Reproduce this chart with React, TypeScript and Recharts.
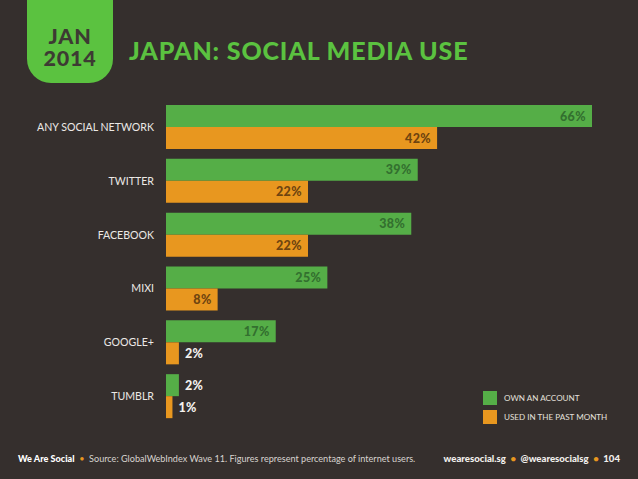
import React from "react";
import { BarChart, Bar, XAxis, YAxis, LabelList, Legend } from "recharts";

const categories = ["ANY SOCIAL NETWORK", "TWITTER", "FACEBOOK", "MIXI", "GOOGLE+", "TUMBLR"];
const ownAccount = [66, 39, 38, 25, 17, 2];
const usedPastMonth = [42, 22, 22, 8, 2, 1];
const rows = categories.map((name, i) => ({ name, own: ownAccount[i], used: usedPastMonth[i] }));

const BG = "#352f2d";
const GREEN = "#55ae47";
const ORANGE = "#e8971f";
const BADGE = "#5bc240";
const FONT = "Lato, 'Open Sans', sans-serif";

const makeLabel = (dark: string) => (p: any) => {
  const { x, y, width, height, value } = p;
  const outside = value <= 2;
  return (
    <text
      x={outside ? x + width + 6 : x + width - 6}
      y={y + height / 2 + 4.5}
      textAnchor={outside ? "start" : "end"}
      fontFamily={FONT}
      fontWeight={900}
      fontSize={12.5}
      letterSpacing={0.4}
      fill={outside ? "#f4f1ee" : dark}
    >
      {value}%
    </text>
  );
};

const CategoryTick = (p: any) => (
  <text x={p.x} y={p.y + 4.4} textAnchor="end" fill="#ece9e6" fontSize={10.6} fontFamily={FONT}>
    {p.payload.value}
  </text>
);

const legendContent = (p: any) => (
  <div>
    {p.payload.map((e: any) => (
      <div key={e.value} style={{ display: "flex", alignItems: "center", height: 19 }}>
        <span style={{ width: 14, height: 14.5, background: e.color, marginRight: 7, display: "block" }} />
        <span style={{ color: "#e4e0dc", fontSize: 8.1, fontFamily: FONT, whiteSpace: "nowrap" }}>{e.value}</span>
      </div>
    ))}
  </div>
);

export default function App() {
  return (
    <div style={{ position: "absolute", left: 0, top: 0, width: 638, height: 479, background: BG, overflow: "hidden" }}>
      <BarChart
        width={638}
        height={479}
        data={rows}
        layout="vertical"
        margin={{ top: 99.6, right: 46, bottom: 56.4, left: 0 }}
        barCategoryGap={5.4}
        barGap={0}
      >
        <XAxis type="number" domain={[0, 66]} hide />
        <YAxis
          type="category"
          dataKey="name"
          width={166}
          axisLine={false}
          tickLine={false}
          tickMargin={6}
          interval={0}
          tick={CategoryTick}
        />
        <Legend
          content={legendContent}
          layout="vertical"
          align="center"
          verticalAlign="middle"
          wrapperStyle={{ position: "absolute", left: 483, top: 388.5, width: 150, bottom: "auto" }}
        />
        <Bar dataKey="own" name="OWN AN ACCOUNT" fill={GREEN} isAnimationActive={false}>
          <LabelList dataKey="own" content={makeLabel("#33702f")} />
        </Bar>
        <Bar dataKey="used" name="USED IN THE PAST MONTH" fill={ORANGE} isAnimationActive={false}>
          <LabelList dataKey="used" content={makeLabel("#6e4410")} />
        </Bar>
      </BarChart>

      <div style={{ position: "absolute", left: 27, top: 0, width: 86, height: 83, background: BADGE, borderRadius: "0 0 24px 24px", color: "#3d3a33", boxSizing: "border-box" }} />
      <div style={{ position: "absolute", left: 27, top: 25, width: 86, textAlign: "center", color: "#3d3a33", fontFamily: FONT, fontWeight: 900, fontSize: 21.5, lineHeight: "22px", letterSpacing: 0.8, whiteSpace: "pre-line" }}>
        {"JAN\n2014"}
      </div>
      <div style={{ position: "absolute", left: 129, top: 35, color: BADGE, fontFamily: FONT, fontWeight: 900, fontSize: 25, lineHeight: "30px", letterSpacing: 0.85, whiteSpace: "nowrap" }}>
        JAPAN: SOCIAL MEDIA USE
      </div>
      <div style={{ position: "absolute", left: 18, top: 453, fontFamily: FONT, fontSize: 9.1, lineHeight: "12px", color: "#d8d4d0", whiteSpace: "nowrap" }}>
        <b style={{ color: "#fff", fontWeight: 900 }}>We Are Social</b>
        <span style={{ color: ORANGE }}> &nbsp;•&nbsp; </span>
        Source: GlobalWebIndex Wave 11. Figures represent percentage of internet users.
      </div>
      <div style={{ position: "absolute", right: 18, top: 453, fontFamily: FONT, fontSize: 9.6, fontWeight: 900, lineHeight: "12px", color: "#f2efec", whiteSpace: "nowrap" }}>
        wearesocial.sg<span style={{ color: ORANGE }}> &nbsp;•&nbsp; </span>@wearesocialsg<span style={{ color: ORANGE }}> &nbsp;•&nbsp; </span>104
      </div>
    </div>
  );
}
